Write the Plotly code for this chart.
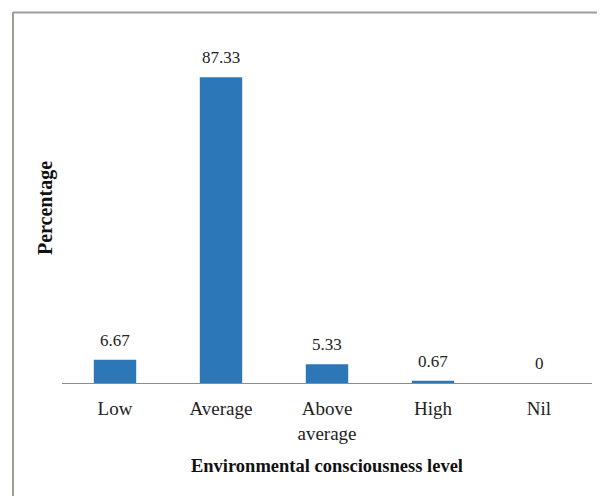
import plotly.graph_objects as go

categories = ["Low", "Average", "Above<br>average", "High", "Nil"]
values = [6.67, 87.33, 5.33, 0.67, 0]
labels = ["6.67", "87.33", "5.33", "0.67", "0"]

# page body has an 8px default margin, so the figure is placed at (8, 8)
OFF = 8
W, H = 605 - OFF, 496 - OFF
L, R, T, B = 62 - OFF, 13, 33 - OFF, 113
pw, ph = W - L - R, H - T - B

def px_x(x):
    return (x - OFF - L) / pw

def px_y(y):
    return (H - B - (y - OFF)) / ph

font = "Liberation Serif, Times New Roman, serif"

fig = go.Figure(go.Bar(
    x=categories, y=values, width=0.4,
    marker=dict(color="#2B77B8", line=dict(width=0)),
))

for c, v, t in zip(categories, values, labels):
    fig.add_annotation(x=c, y=v, text=t, showarrow=False, yanchor="bottom",
                       yshift=8, font=dict(family=font, size=17, color="#222"))

fig.add_shape(type="line", xref="paper", yref="paper",
              x0=px_x(13), x1=px_x(13), y0=px_y(12), y1=px_y(520),
              line=dict(color="#A29C98", width=2))
fig.add_shape(type="line", xref="paper", yref="paper",
              x0=px_x(13), x1=px_x(620), y0=px_y(12.5), y1=px_y(12.5),
              line=dict(color="#A29C98", width=2))

fig.update_layout(
    width=W, height=H,
    margin=dict(l=L, r=R, t=T, b=B),
    paper_bgcolor="white", plot_bgcolor="white",
    showlegend=False,
    font=dict(family=font, size=19, color="#222"),
    xaxis=dict(
        showline=True, linecolor="#8C8C8C", linewidth=1,
        ticks="", ticklabelstandoff=8,
        tickfont=dict(family=font, size=19, color="#222"),
        title=dict(text="<b>Environmental consciousness level</b>",
                   font=dict(family=font, size=18.5, color="#111"), standoff=16),
    ),
    yaxis=dict(
        range=[0, 100], showticklabels=False, showgrid=False, zeroline=False,
        ticks="",
        title=dict(text="<b>Percentage</b>",
                   font=dict(family=font, size=20, color="#111"), standoff=3),
    ),
)

fig.write_html("out.html")
